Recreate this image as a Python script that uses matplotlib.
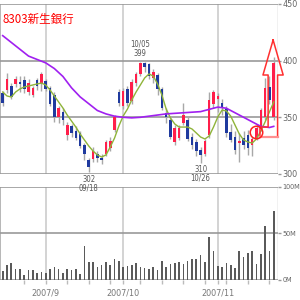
import numpy as np
import matplotlib
matplotlib.use('Agg')
import matplotlib.pyplot as plt
from matplotlib import font_manager

# pick a narrow font for axis labels if it is there
names = set(f.name for f in font_manager.fontManager.ttflist)
narrow = 'Liberation Sans Narrow' if 'Liberation Sans Narrow' in names else 'DejaVu Sans'
has_cond = any(f.name == narrow and f.stretch == 'condensed'
               for f in font_manager.fontManager.ttflist)
lab_size = 6.5 if (narrow != 'DejaVu Sans' or has_cond) else 5.6

# daily prices, 2007/08/20 .. 2007/11/20
opens = [371, 374, 378, 379, 381, 383, 372, 370, 383, 379,
         382, 376, 370, 350, 355, 334, 342, 338, 336, 326,
         312, 313, 318, 314, 318, 323, 339, 372, 360, 375,
         364, 380, 388, 398, 397, 385, 387, 375, 354, 348,
         328, 332, 345, 348, 333, 328, 321, 318, 334, 362,
         366, 363, 357, 337, 333, 327, 332, 334, 326, 332,
         340, 350, 377, 350]
highs = [373, 389, 380, 386, 386, 386, 384, 378, 385, 390,
         384, 378, 372, 360, 358, 346, 344, 342, 338, 327,
         314, 324, 320, 318, 330, 333, 352, 375, 376, 378,
         384, 390, 399, 399, 398, 393, 389, 377, 358, 349,
         343, 343, 363, 350, 336, 331, 324, 331, 372, 374,
         371, 366, 360, 344, 338, 336, 338, 339, 333, 344,
         358, 385, 386, 403]
lows = [360, 371, 366, 377, 372, 371, 370, 368, 374, 373,
        373, 360, 346, 345, 343, 330, 333, 330, 323, 312,
        302, 311, 311, 309, 316, 320, 337, 360, 357, 360,
        362, 378, 386, 390, 384, 380, 370, 356, 345, 331,
        326, 330, 343, 329, 322, 316, 310, 316, 332, 358,
        355, 352, 333, 328, 318, 311, 322, 317, 316, 330,
        338, 348, 362, 348]
closes = [363, 384, 368, 384, 379, 375, 380, 376, 378, 388,
          375, 362, 350, 358, 348, 343, 336, 332, 325, 318,
          306, 320, 314, 312, 328, 329, 350, 363, 373, 363,
          381, 388, 398, 394, 386, 390, 375, 358, 350, 333,
          341, 341, 352, 331, 326, 320, 317, 329, 365, 372,
          369, 358, 336, 330, 321, 329, 326, 323, 331, 341,
          356, 376, 365, 398]
volumes = [10, 16, 18.6, 11.8, 11.8, 5.4, 10.8, 10.8, 7.9, 9,
           7.5, 11.8, 14.2, 11.8, 7.9, 11.8, 10.8, 11.8, 6.5, 36.6,
           19.7, 19.7, 14.2, 16.1, 19.7, 15.8, 22.6, 20.8, 14.3, 15.4,
           16.5, 18.6, 14.3, 13.3, 12.2, 14, 10.8, 20.4, 14, 17.2,
           18.3, 19.4, 17.2, 20.4, 22.6, 22.6, 26.9, 19.7, 46.6, 31.2,
           15.1, 14, 18.3, 16.1, 12.9, 31.2, 24.7, 29, 31.2, 17.2,
           28, 58, 31.2, 74.5]
# moving averages
ma_short = [372.3, 368.8, 367.9, 372.3, 375, 376.7, 377.6, 378.5, 379.4, 380.2,
            378.5, 374.1, 368.8, 363.5, 358.2, 352, 346.7, 341.4, 335.3, 330,
            324.7, 320.3, 316.8, 315, 316.8, 323.8, 331.7, 342.3, 351.1, 357.3,
            365.3, 372.3, 378.5, 384.7, 388.2, 386.4, 379.4, 369.7, 357.3, 349.4,
            344.1, 341.4, 341.4, 341.4, 339.7, 336.2, 332.6, 330.9, 333.5, 341.4,
            350.3, 356.4, 355.6, 351.1, 343.2, 335.3, 330, 328.2, 327.3, 330.9,
            337.9, 345.9, 354.7, 363.5]
ma_long_idx = [0, 2, 4, 6, 8, 10, 12, 14, 16, 18, 20, 22, 24, 26, 28, 30, 32,
               34, 36, 38, 40, 42, 44, 46, 48, 50, 52, 54, 56, 58, 60, 62, 63]
ma_long = [422, 416, 410, 404, 401, 398, 393, 386, 376, 368, 362, 356, 353, 351,
           350, 349.5, 350, 351, 352, 353, 353.5, 354, 354.5, 355, 357, 359, 358,
           354, 350, 346, 342, 341, 342]

month_idx = [10, 28, 50]
month_labels = ['2007/9', '2007/10', '2007/11']
week_idx = [5, 15, 20, 25, 32, 37, 42, 47, 52, 57, 62]

x = np.arange(len(opens))
o = np.array(opens); c = np.array(closes)
up = c >= o

fig = plt.figure(figsize=(3, 3), dpi=100)
ax = fig.add_axes([0, 0.42, 0.926, 0.567])
axv = fig.add_axes([0, 0.0667, 0.926, 0.31])
ax.set_zorder(3)
ax.patch.set_visible(False)

red = '#ff1f4a'
blue = '#1f3a9e'
grid_h = '#999999'
grid_v = '#cccccc'

for a in (ax, axv):
    a.set_xlim(-0.63, 63.95)
    for m in month_idx:
        a.axvline(m, color=grid_v, lw=1.2, zorder=0)
    for s in ('top', 'bottom', 'left', 'right'):
        a.spines[s].set_visible(False)
    a.axvline(-0.63, color='#aaaaaa', lw=1.2, zorder=0)
    a.axvline(63.95, color='#bbbbbb', lw=1.0, zorder=0)
    a.yaxis.tick_right()
    a.tick_params(axis='y', length=2.5, width=1, color=grid_h, labelcolor='#666666',
                  labelsize=lab_size, pad=0.8)
    a.set_xticks([])

# price panel
ax.set_ylim(300, 450)
ax.set_yticks([300, 350, 400, 450])
for v in [300, 350, 400, 450]:
    ax.axhline(v, color=grid_h, lw=1.2, zorder=0)
for t in ax.get_yticklabels():
    t.set_family(narrow)
    t.set_stretch('condensed')

ax.vlines(x, lows, highs, color='#a8a8a8', lw=1, zorder=2)
body = np.maximum(np.abs(c - o), 0.8)
ax.bar(x[up], body[up], bottom=np.minimum(o, c)[up], width=0.6, color=red, zorder=3)
ax.bar(x[~up], body[~up], bottom=np.minimum(o, c)[~up], width=0.6, color=blue, zorder=3)

ax.plot(x, ma_short, color='#8fb43a', lw=1.0, zorder=4)
ax.plot(ma_long_idx, ma_long, color='#a020f0', lw=1.2, zorder=4)

# high / low notes
note = dict(ha='center', fontsize=5.5, color='#555555', family=narrow,
            stretch='condensed', clip_on=False)
ax.text(32, 411, '10/05', va='bottom', **note)
ax.text(32, 402, '399', va='bottom', **note)
ax.text(20, 299, '302', va='top', **note)
ax.text(20, 291.5, '09/18', va='top', **note)
ax.text(46, 308, '310', va='top', **note)
ax.text(46, 300.5, '10/26', va='top', **note)

# title
ax.text(0.01, 0.95, '8303新生銀行', transform=ax.transAxes, color='#ff0000',
        fontsize=8.3, va='top', ha='left', family=['Noto Sans CJK JP', 'DejaVu Sans'])

# red arrow and circle
arrow = [(62.86, 418.2), (65.2, 387.3), (63.9, 387.3), (63.9, 332.6),
         (59.8, 332.6), (59.8, 341.4), (61.7, 341.4), (61.7, 387.3),
         (60.5, 387.3), (62.86, 418.2)]
ax.plot([p[0] for p in arrow], [p[1] for p in arrow], color='#ff3030', lw=1.1,
        zorder=6, clip_on=False)
ax.plot([59.8, 63.9], [332.6, 332.6], color='#ff9090', lw=1.6, zorder=6, clip_on=False)
ax.plot([58.9], [337], marker='o', ms=9, mfc='none', mec='#ff2020', mew=1.1, zorder=6)

# volume panel
axv.set_ylim(0, 100)
axv.set_yticks([0, 50, 100])
axv.set_yticklabels(['0M', '50M', '100M'])
for v in [0, 50, 100]:
    axv.axhline(v, color=grid_h, lw=1.2, zorder=0)
for t in axv.get_yticklabels():
    t.set_family(narrow)
    t.set_stretch('condensed')
    t.set_fontsize(min(lab_size, 5.2))
axv.bar(x, volumes, width=0.38, color='#5a5a5a', zorder=3)

axv.set_xticks(month_idx)
axv.set_xticklabels(month_labels)
axv.set_xticks(week_idx, minor=True)
axv.tick_params(axis='x', which='both', length=3, width=1, color='#bbbbbb',
                labelcolor='#777777', labelsize=lab_size, pad=3)
for t in axv.get_xticklabels():
    t.set_family(narrow)
    t.set_stretch('condensed')

fig.savefig('out.png', dpi=100)
